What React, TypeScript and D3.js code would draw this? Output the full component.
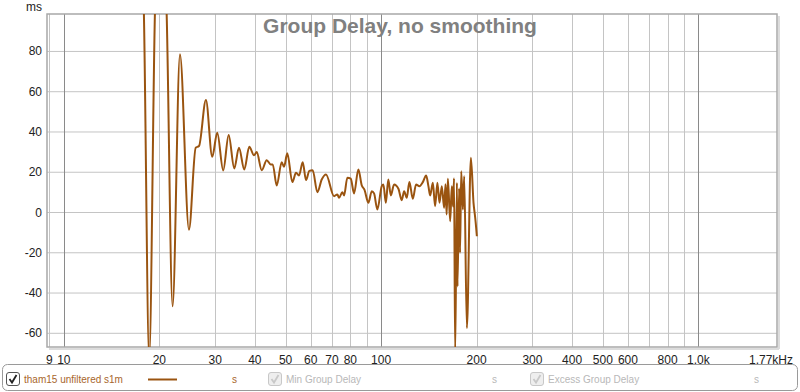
import React from "react";
import * as d3 from "d3";

// group delay (Hz, ms)
const freqHz = [
  17.63, 17.88, 18.58, 19.37, 20.23, 21.09, 22.02, 23.23, 24.8, 26.04, 26.67,
  28.05, 29.36, 30.45, 31.8, 33.08, 34.45, 35.65, 37.05, 38.42, 39.76, 40.55,
  42.05, 43.6, 44.88, 45.54, 46.88, 48.61, 49.43, 50.63, 52.51, 53.94, 55.12,
  56.62, 58.0, 59.4, 60.88, 62.96, 65.0, 67.06, 71.07, 72.8, 73.71, 75.49,
  76.44, 78.29, 80.24, 82.19, 84.8, 86.94, 88.6, 91.19, 93.47, 95.04, 97.34,
  100.5, 101.7, 103.5, 105.4, 107.3, 109.9, 113.4, 116.2, 118.2, 120.5, 122.8,
  125.9, 128.9, 132.1, 135.4, 138.7, 141.0, 142.8, 145.6, 148.0, 150.5, 152.8,
  155.4, 158.0, 159.6, 160.9, 162.4, 165.1, 167.1, 168.6, 169.8, 171.2, 173.4,
  174.1, 176.2, 177.4, 178.9, 181.1, 182.8, 186.4, 191.9, 195.6, 198.0, 199.4,
  200.4,
];
const delayMs = [
  140, 99, -72, 99, 170, 99, -46.6, 78.6, -8.5, 32.2, 33,
  55.9, 27.7, 39.6, 20.9, 38.5, 21.9, 32.2, 21.4, 32.7, 28.4, 30,
  21, 26, 23.9, 23.9, 13.4, 25, 22.7, 29.4, 15.1, 19.8, 18.4,
  25, 16.1, 20.7, 21, 10.1, 16.4, 18.9, 8.1, 9, 7.3, 10.1,
  8.5, 17.3, 16.8, 9.5, 21.4, 13.4, 11.4, 4.8, 10.6, 9.5, 1.5,
  13.1, 13.9, 4.8, 16.4, 8.5, 13.9, 11.8, 6.1, 10.6, 7.3, 15.1,
  6.8, 13.9, 13.1, 15.1, 18.4, 13.1, 8.5, 14.8, 3.1, 14.8, 4.8,
  13.1, 2.3, 14, -1, 16.8, -4.3, 13.1, 3, 17, -70, 14.8,
  -36.7, 12, -20, 20.5, 1.5, 18, -57.4, 27.2, 4.8, -2.6, -7.6,
  -11.8,
];

const yTicks = [80, 60, 40, 20, 0, -20, -40, -60];
const xGrid = [
  9, 10, 20, 30, 40, 50, 60, 70, 80, 90, 100, 200, 300, 400, 500, 600, 700,
  800, 900, 1000,
];
const decades = [10, 100, 1000];
const xLabelFreqs = [9, 10, 20, 30, 40, 50, 60, 70, 80, 100, 200, 300, 400, 500, 600, 800, 1000];
const xLabelTexts = ["9", "10", "20", "30", "40", "50", "60", "70", "80", "100", "200", "300", "400", "500", "600", "800", "1,0k"];

const W = 800;
const H = 392;
const m = { left: 47, right: 777, top: 14, bottom: 347 };
const lineColor = "#9a5410";
const font = "'Liberation Sans', Arial, sans-serif";

const Check = ({ x, y, on }: { x: number; y: number; on: boolean }) => (
  <g transform={`translate(${x},${y})`}>
    <rect x={0.5} y={0.5} width={13} height={13} rx={2.5} fill={on ? "#fff" : "#eee"} stroke={on ? "#555" : "#c8c8c8"} />
    <path d="M3.5,7 L6,10.5 L10.5,3" fill="none" stroke={on ? "#222" : "#c8c8c8"} strokeWidth={1.8} />
  </g>
);

export default function App() {
  const x = d3.scaleLog().domain([8.85, 1770]).range([m.left, m.right]);
  const y = d3.scaleLinear().domain([-66.8, 98.6]).range([m.bottom, m.top]);
  const pts = freqHz.map((f, i) => [f, delayMs[i]] as [number, number]);
  const line = d3
    .line<[number, number]>()
    .x((d) => x(d[0]))
    .y((d) => y(d[1]))
    .curve(d3.curveMonotoneX);

  return (
    <svg width={W} height={H} style={{ position: "absolute", left: 0, top: 0, background: "#fff" }} fontFamily={font}>
      <defs>
        <clipPath id="plot">
          <rect x={m.left} y={m.top} width={m.right - m.left} height={m.bottom - m.top} />
        </clipPath>
      </defs>

      {/* grid */}
      {yTicks.map((t) => (
        <line key={"h" + t} x1={m.left} x2={m.right} y1={y(t)} y2={y(t)} stroke="#c4c4c4" />
      ))}
      {xGrid.map((f) => (
        <line
          key={"v" + f}
          x1={Math.round(x(f)) + 0.5}
          x2={Math.round(x(f)) + 0.5}
          y1={m.top}
          y2={m.bottom}
          stroke={decades.includes(f) ? "#8a8a8a" : "#c4c4c4"}
        />
      ))}

      {/* frame */}
      <line x1={m.right + 2} x2={m.right + 2} y1={m.top + 2} y2={m.bottom + 2} stroke="#dcdcdc" strokeWidth={2} />
      <line x1={m.left + 2} x2={m.right + 2} y1={m.bottom + 2} y2={m.bottom + 2} stroke="#dcdcdc" strokeWidth={2} />
      <rect x={m.left} y={m.top} width={m.right - m.left} height={m.bottom - m.top} fill="none" stroke="#a8a8a8" strokeWidth={1.5} />

      <path d={line(pts) || ""} fill="none" stroke={lineColor} strokeWidth={2} clipPath="url(#plot)" strokeLinejoin="round" />

      {/* title */}
      <text x={400} y={33} textAnchor="middle" fontSize={21} fontWeight="bold" fill="#808080">
        Group Delay, no smoothing
      </text>

      {/* y axis */}
      <text x={42} y={11} textAnchor="end" fontSize={12} fill="#222">ms</text>
      {yTicks.map((t) => (
        <text key={"yl" + t} x={42} y={y(t) + 4} textAnchor="end" fontSize={12} fill="#222">
          {t}
        </text>
      ))}

      {/* x axis */}
      {xLabelFreqs.map((f, i) => (
        <text key={"xl" + f} x={x(f)} y={364} textAnchor="middle" fontSize={12} fill="#222">
          {xLabelTexts[i]}
        </text>
      ))}
      <text x={793} y={364} textAnchor="end" fontSize={12} fill="#222">1,77kHz</text>

      {/* legend */}
      <rect x={2.5} y={364.5} width={795} height={26} rx={5} fill="#fff" stroke="#9a9a9a" />
      <Check x={6} y={372} on={true} />
      <text x={24} y={383} fontSize={10} fill="#a8662c">tham15 unfiltered s1m</text>
      <line x1={148} x2={177} y1={379.5} y2={379.5} stroke={lineColor} strokeWidth={2} />
      <text x={232} y={383} fontSize={10} fill="#a8662c">s</text>
      <Check x={268} y={372} on={false} />
      <text x={286} y={383} fontSize={10} fill="#b8b8b8">Min Group Delay</text>
      <text x={492} y={383} fontSize={10} fill="#b8b8b8">s</text>
      <Check x={530} y={372} on={false} />
      <text x={548} y={383} fontSize={10} fill="#b8b8b8">Excess Group Delay</text>
      <text x={754} y={383} fontSize={10} fill="#b8b8b8">s</text>
    </svg>
  );
}
